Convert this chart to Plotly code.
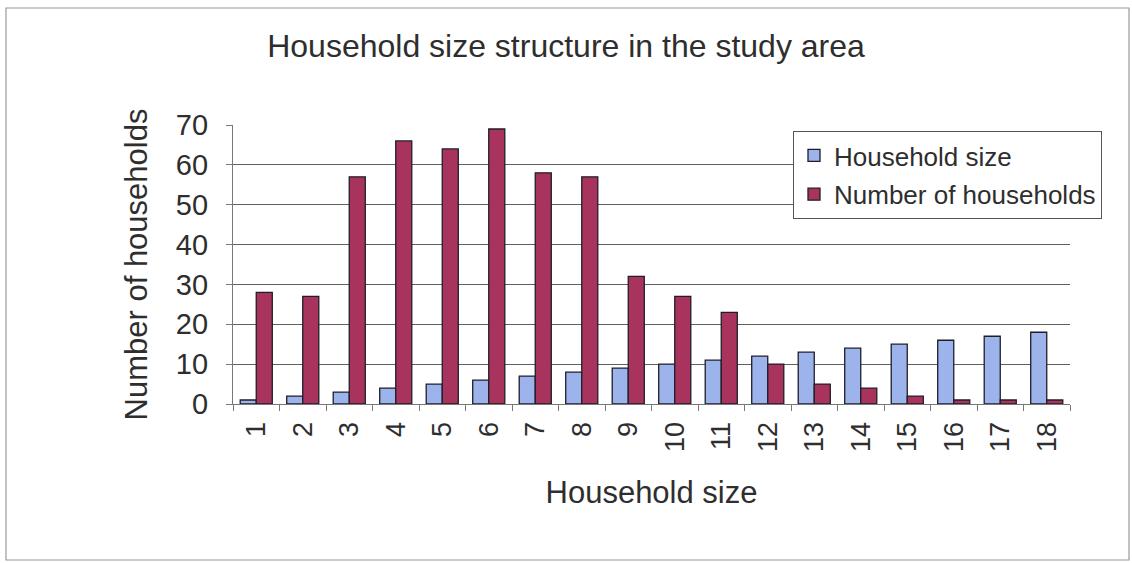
import plotly.graph_objects as go

# Household size categories (x axis)
sizes = [str(i) for i in range(1, 19)]

# Series values
household_size = [1, 2, 3, 4, 5, 6, 7, 8, 9, 10, 11, 12, 13, 14, 15, 16, 17, 18]
num_households = [28, 27, 57, 66, 64, 69, 58, 57, 32, 27, 23, 10, 5, 4, 2, 1, 1, 1]

y_ticks = [0, 10, 20, 30, 40, 50, 60, 70]

FONT = "Liberation Sans, Arial, sans-serif"
TXT = "#2e2e2e"

fig = go.Figure()
fig.add_trace(go.Bar(
    x=sizes, y=household_size, name="Household size",
    marker=dict(color="#9cb3ec", line=dict(color="#1e1e2a", width=1.3)),
    legendgroup="a",
))
fig.add_trace(go.Bar(
    x=sizes, y=num_households, name="Number of households",
    marker=dict(color="#a8345e", line=dict(color="#1e1e2a", width=1.3)),
    legendgroup="b",
))

L, R, T, B = 233, 62, 125, 159
W, H = 1132, 563
pw, ph = W - L - R, H - T - B

def px(x):
    return (x - L) / pw

def py(y):
    return (H - B - y) / ph

fig.update_layout(
    width=W, height=H,
    margin=dict(l=L, r=R, t=T, b=B, autoexpand=False),
    paper_bgcolor="white", plot_bgcolor="white",
    font=dict(family=FONT, color=TXT),
    barmode="group", bargap=0.31, bargroupgap=0,
    title=dict(text="Household size structure in the study area",
               x=0.5, xref="container", xanchor="center",
               y=1 - 46 / H, yref="container", yanchor="middle",
               font=dict(size=32, family=FONT, color=TXT)),
    legend=dict(
        x=px(793), y=py(131), xanchor="left", yanchor="top",
        bgcolor="white", bordercolor="#555555", borderwidth=1,
        font=dict(size=26, family=FONT, color=TXT),
        tracegroupgap=2, traceorder="grouped",
    ),
    showlegend=True,
    shapes=[dict(type="rect", xref="paper", yref="paper",
                 x0=px(6), x1=px(1129), y0=py(560), y1=py(8),
                 line=dict(color="#9a9a9a", width=1.2), layer="below")],
)

fig.update_xaxes(
    type="category", tickangle=-90,
    tickfont=dict(size=27, family=FONT, color=TXT),
    ticklabelstandoff=6,
    showline=True, linecolor="#777777", linewidth=1.2,
    ticks="outside", ticklen=6, tickcolor="#777777", tickson="boundaries",
    showgrid=False,
    title=dict(text="Household size", font=dict(size=31, family=FONT, color=TXT), standoff=30),
)
fig.update_yaxes(
    range=[0, 70], tickvals=y_ticks,
    tickfont=dict(size=29, family=FONT, color=TXT),
    ticklabelstandoff=12,
    showline=True, linecolor="#777777", linewidth=1.2,
    ticks="outside", ticklen=6, tickcolor="#777777",
    showgrid=True, gridcolor="#606060", gridwidth=1,
    zeroline=False,
    title=dict(text="Number of households", font=dict(size=31, family=FONT, color=TXT), standoff=18),
)

fig.write_html("out.html")
